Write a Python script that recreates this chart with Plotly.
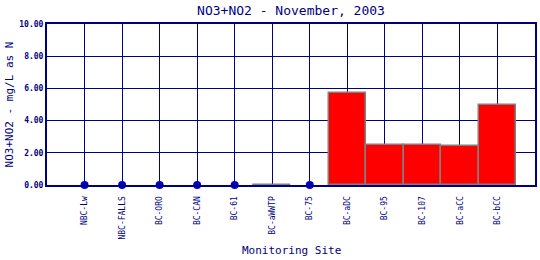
import plotly.graph_objects as go

sites = ["NBC-Lw", "NBC-FALLS", "BC-ORO", "BC-CAN", "BC-61", "BC-aWWTP", "BC-75",
         "BC-aDC", "BC-95", "BC-107", "BC-aCC", "BC-bCC"]
bar_values = [None, None, None, None, None, 0.0, None, 5.74, 2.47, 2.47, 2.41, 5.0]
point_values = [0, 0, 0, 0, 0, None, 0, None, None, None, None, None]
y_ticks = [0, 2, 4, 6, 8, 10]

NAVY = "#000080"
FONT = "DejaVu Sans Mono"
idx = list(range(len(sites)))

fig = go.Figure()
fig.add_trace(go.Bar(
    x=idx, y=bar_values, width=1.0,
    marker=dict(color="#FF0000", line=dict(color="#808080", width=1.5)),
    showlegend=False, cliponaxis=False,
))
fig.add_trace(go.Scatter(
    x=idx, y=point_values, mode="markers",
    marker=dict(color="#0000CC", size=8),
    showlegend=False, cliponaxis=False,
))

fig.update_layout(
    width=540, height=260,
    margin=dict(l=47, r=5, t=24, b=75),
    paper_bgcolor="white", plot_bgcolor="white",
    title=dict(text="NO3+NO2 - November, 2003", x=(47 + 535) / 2 / 540, xanchor="center",
               y=1 - 10 / 260, yanchor="middle",
               font=dict(family=FONT, size=13, color=NAVY)),
    bargap=0,
    annotations=[dict(text="Monitoring Site", xref="paper", yref="paper",
                      x=0.5, y=-65 / 161, xanchor="center", yanchor="middle",
                      showarrow=False, font=dict(family=FONT, size=11, color=NAVY))],
)
fig.update_xaxes(
    automargin=False,
    range=[-1, len(sites)], tickmode="array", tickvals=idx, ticktext=sites,
    tickangle=-90, tickfont=dict(family=FONT, size=8, color=NAVY),
    ticklabelstandoff=6,
    showgrid=True, gridcolor=NAVY, gridwidth=1,
    showline=True, linecolor=NAVY, linewidth=2, mirror=True,
    ticks="", zeroline=False,
)
fig.update_yaxes(
    automargin=False,
    range=[0, 10], tickmode="array", tickvals=y_ticks,
    ticktext=[f"<b>{v:.2f}</b>" for v in y_ticks],
    tickfont=dict(family=FONT, size=8, color=NAVY),
    showgrid=True, gridcolor=NAVY, gridwidth=1,
    showline=True, linecolor=NAVY, linewidth=2, mirror=True,
    ticks="", zeroline=False,
    title=dict(text="NO3+NO2 - mg/L as N", font=dict(family=FONT, size=11, color=NAVY), standoff=3),
)

fig.write_html("out.html")
